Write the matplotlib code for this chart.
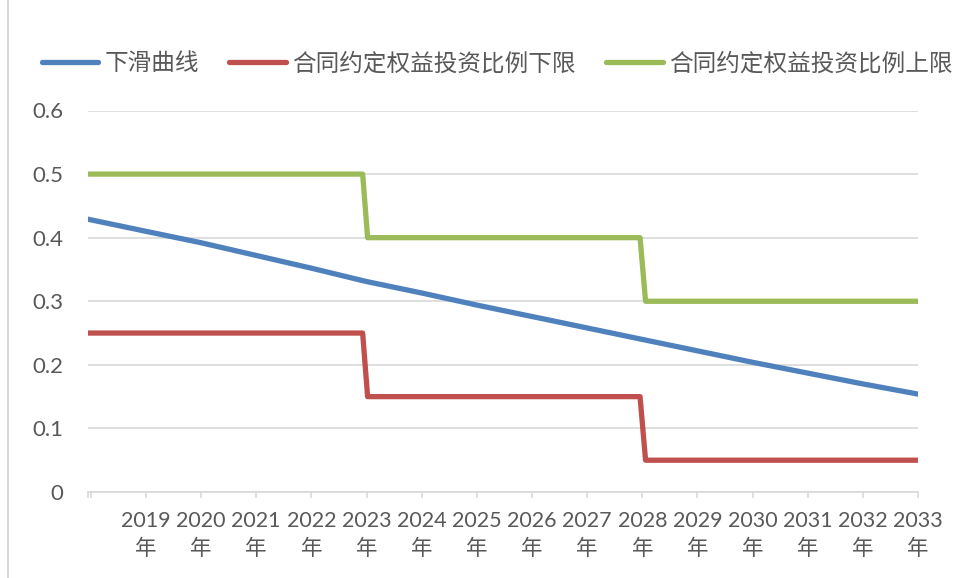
# Glide path chart: equity ratio glide curve with contract bounds
import matplotlib.pyplot as plt
import numpy as np

plt.rcParams['font.family'] = ['Lato', 'Noto Sans CJK SC', 'DejaVu Sans']

# data (x in fractional years)
years = list(range(2019, 2034))
year_labels = [f'{y}\n年' for y in years]

glide_x = [2017.95] + years
glide_y = [0.429, 0.410, 0.392, 0.372, 0.352, 0.331, 0.313, 0.294,
           0.276, 0.258, 0.240, 0.222, 0.204, 0.187, 0.170, 0.154]

step_x = [2017.95, 2022.93, 2023.02, 2027.96, 2028.06, 2033.0]
lower_y = [0.25, 0.25, 0.15, 0.15, 0.05, 0.05]
upper_y = [0.50, 0.50, 0.40, 0.40, 0.30, 0.30]

names = ['下滑曲线', '合同约定权益投资比例下限', '合同约定权益投资比例上限']
colors = ['#4F81BD', '#C0504D', '#9BBB59']
text_color = '#595959'
grid_color = '#D9D9D9'

fig = plt.figure(figsize=(9.63, 5.78), dpi=100)
ax = fig.add_axes([88 / 963, 86 / 578, 830 / 963, 381.5 / 578])

lw = 3.8
ax.plot(glide_x, glide_y, color=colors[0], lw=lw, solid_capstyle='round',
        solid_joinstyle='round', label=names[0], zorder=3)
ax.plot(step_x, lower_y, color=colors[1], lw=lw, solid_capstyle='round',
        solid_joinstyle='round', label=names[1], zorder=3)
ax.plot(step_x, upper_y, color=colors[2], lw=lw, solid_capstyle='round',
        solid_joinstyle='round', label=names[2], zorder=3)

ax.set_xlim(2017.95, 2033.0)
ax.set_ylim(0, 0.6)

# y axis: gridlines only
ax.set_yticks(np.arange(0, 0.61, 0.1))
ax.set_yticklabels(['0', '0.1', '0.2', '0.3', '0.4', '0.5', '0.6'])
ax.yaxis.grid(True, color=grid_color, lw=1.2)
ax.tick_params(axis='y', length=0, pad=18, labelsize=16, labelcolor=text_color)

# x axis: yearly ticks with two-line labels
ax.set_xticks(years)
ax.set_xticklabels(year_labels, linespacing=1.45)
ax.set_xticks([2017.95, 2018.0], minor=True)
ax.tick_params(axis='x', which='both', direction='out', length=4,
               color=grid_color, width=1.2, pad=10, labelsize=15.5,
               labelcolor=text_color)

for side in ['top', 'right', 'left']:
    ax.spines[side].set_visible(False)
ax.spines['bottom'].set_color(grid_color)
ax.spines['bottom'].set_linewidth(1.2)
ax.set_axisbelow(True)

leg = fig.legend(loc='center', bbox_to_anchor=(0.516, 1 - 63 / 578), ncol=3,
                 frameon=False, fontsize=17, handlelength=2.4,
                 handletextpad=0.25, columnspacing=1.3)
for t in leg.get_texts():
    t.set_color(text_color)

# light border on the left edge of the chart area
fig.add_artist(plt.Line2D([7.5 / 963, 7.5 / 963], [0, 1], color=grid_color,
                          lw=1.5, transform=fig.transFigure))

fig.savefig('out.png', dpi=100)
